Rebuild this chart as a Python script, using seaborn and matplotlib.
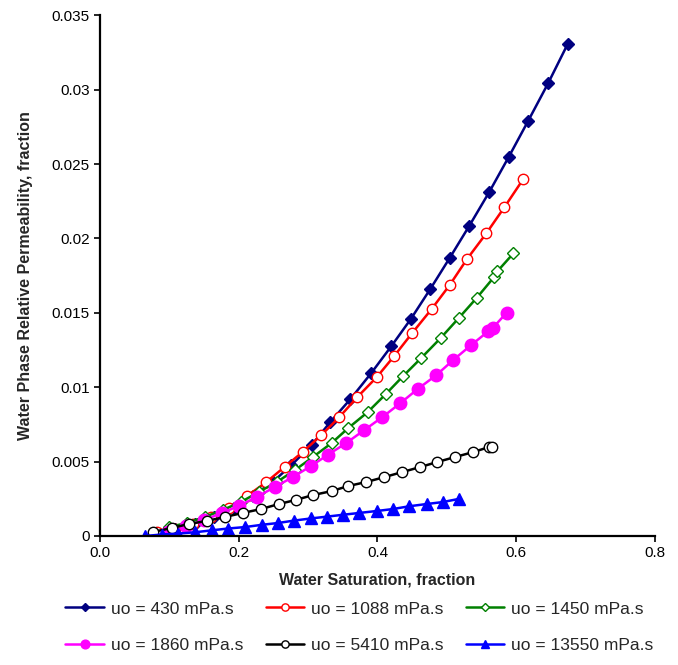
import numpy as np
import pandas as pd
import matplotlib
matplotlib.use("Agg")
import matplotlib.pyplot as plt
from matplotlib.ticker import FuncFormatter, MultipleLocator
import seaborn as sns

# ================================
# DATA
# ================================
labels = ["uo = 430 mPa.s", "uo = 1088 mPa.s", "uo = 1450 mPa.s",
          "uo = 1860 mPa.s", "uo = 5410 mPa.s", "uo = 13550 mPa.s"]

sw_430 = [0.080, 0.108, 0.137, 0.164, 0.193, 0.220, 0.249, 0.276, 0.305, 0.332, 0.361,
          0.391, 0.420, 0.448, 0.476, 0.504, 0.532, 0.561, 0.589, 0.617, 0.646, 0.674]
krw_430 = [0.0002, 0.00047, 0.00081, 0.00128, 0.00188, 0.00269, 0.00363, 0.00477, 0.00611,
           0.00766, 0.0092, 0.01095, 0.01276, 0.01458, 0.01659, 0.01868, 0.02082, 0.02311,
           0.02546, 0.02788, 0.03043, 0.03305]

sw_1088 = [0.082, 0.108, 0.134, 0.160, 0.186, 0.212, 0.240, 0.266, 0.292, 0.319, 0.345,
           0.371, 0.399, 0.424, 0.450, 0.478, 0.504, 0.529, 0.557, 0.583, 0.610]
krw_1088 = [0.00027, 0.00047, 0.00081, 0.00128, 0.00188, 0.00269, 0.00363, 0.00464, 0.00564,
            0.00678, 0.00799, 0.00934, 0.01068, 0.01209, 0.01364, 0.01525, 0.01686, 0.01861,
            0.02035, 0.0221, 0.02398]

sw_1450 = [0.099, 0.125, 0.151, 0.177, 0.203, 0.229, 0.255, 0.281, 0.307, 0.334, 0.358,
           0.386, 0.412, 0.437, 0.463, 0.491, 0.517, 0.543, 0.568, 0.573, 0.596]
krw_1450 = [0.0006, 0.00087, 0.00128, 0.00175, 0.00228, 0.00296, 0.00363, 0.00443, 0.00531,
            0.00625, 0.00726, 0.00833, 0.00954, 0.01075, 0.01196, 0.0133, 0.01464, 0.0160,
            0.0174, 0.0178, 0.019]

sw_1860 = [0.098, 0.124, 0.150, 0.176, 0.200, 0.226, 0.252, 0.278, 0.304, 0.328, 0.355,
           0.381, 0.407, 0.433, 0.458, 0.485, 0.509, 0.535, 0.560, 0.566, 0.586]
krw_1860 = [0.00027, 0.00067, 0.00107, 0.00155, 0.00202, 0.00262, 0.00329, 0.00396, 0.0047,
            0.00544, 0.00625, 0.00712, 0.00799, 0.00893, 0.00988, 0.01082, 0.01182, 0.01283,
            0.01377, 0.01397, 0.015]

sw_5410 = [0.076, 0.104, 0.128, 0.154, 0.180, 0.206, 0.232, 0.258, 0.282, 0.307, 0.334,
           0.358, 0.384, 0.410, 0.436, 0.462, 0.486, 0.512, 0.538, 0.561, 0.565]
krw_5410 = [0.00027, 0.00054, 0.00081, 0.00101, 0.00128, 0.00155, 0.00181, 0.00215, 0.00242,
            0.00275, 0.00302, 0.00336, 0.00363, 0.00396, 0.0043, 0.00464, 0.00497, 0.00531,
            0.00564, 0.00598, 0.006]

sw_13550 = [0.065, 0.089, 0.112, 0.137, 0.161, 0.184, 0.209, 0.233, 0.256, 0.279, 0.304,
            0.327, 0.351, 0.374, 0.399, 0.422, 0.446, 0.471, 0.494, 0.518]
krw_13550 = [0.0, 0.0001, 0.00016, 0.00025, 0.00038, 0.0005, 0.0006, 0.00075, 0.00087,
             0.00103, 0.00118, 0.0013, 0.00143, 0.00155, 0.00168, 0.00181, 0.002, 0.00215,
             0.00228, 0.0025]

series = [(sw_430, krw_430), (sw_1088, krw_1088), (sw_1450, krw_1450),
          (sw_1860, krw_1860), (sw_5410, krw_5410), (sw_13550, krw_13550)]

# ================================
# STYLE
# ================================
sns.set_style("ticks")
plt.rcParams['font.family'] = ['Liberation Sans', 'DejaVu Sans']

colors = ["#000080", "#FF0000", "#008000", "#FF00FF", "#000000", "#0000FF"]
markers = ["D", "o", "D", "o", "o", "^"]
msizes = [6.5, 7.5, 6, 9, 7.5, 8.5]
filled = [True, False, False, True, False, True]

fig = plt.figure(figsize=(6.78, 6.65), dpi=100)
ax = fig.add_axes([0.1475, 0.194, 0.8185, 0.783])

for (sw, krw), lab, c, m, ms, f in zip(series, labels, colors, markers, msizes, filled):
    df = pd.DataFrame({'sw': sw, 'krw': krw})
    sns.lineplot(data=df, x='sw', y='krw', ax=ax, color=c, lw=1.8,
                 marker=m, markersize=ms, markeredgecolor=c,
                 markerfacecolor=c if f else 'white', markeredgewidth=1.0,
                 estimator=None, sort=False, label=lab)

ax.set_xlim(0, 0.8)
ax.set_ylim(0, 0.035)
ax.xaxis.set_major_locator(MultipleLocator(0.2))
ax.yaxis.set_major_locator(MultipleLocator(0.005))
ax.xaxis.set_major_formatter(FuncFormatter(lambda v, p: f"{v:.1f}"))
ax.yaxis.set_major_formatter(FuncFormatter(lambda v, p: f"{round(v, 3):g}"))
ax.tick_params(axis='both', direction='out', length=4, width=1.2, labelsize=11, colors='black')
sns.despine(ax=ax)
for s in ['left', 'bottom']:
    ax.spines[s].set_linewidth(1.6)
    ax.spines[s].set_color('black')

ax.set_xlabel("Water Saturation, fraction", fontsize=11.5, fontweight='bold', labelpad=9)
ax.set_ylabel("Water Phase Relative Permeability, fraction", fontsize=11.5,
              fontweight='bold', labelpad=13)

# legend rows read left to right, like the reference
handles, labs = ax.get_legend_handles_labels()
ax.get_legend().remove()
order = [0, 3, 1, 4, 2, 5]
fig.legend([handles[i] for i in order], [labs[i] for i in order],
           loc='lower center', bbox_to_anchor=(0.53, -0.006), ncol=3,
           frameon=False, fontsize=12.5, handlelength=2.2, handletextpad=0.4,
           columnspacing=1.3, labelspacing=1.25, markerscale=0.7)

plt.savefig('out.png', dpi=100)
print("saved out.png")
